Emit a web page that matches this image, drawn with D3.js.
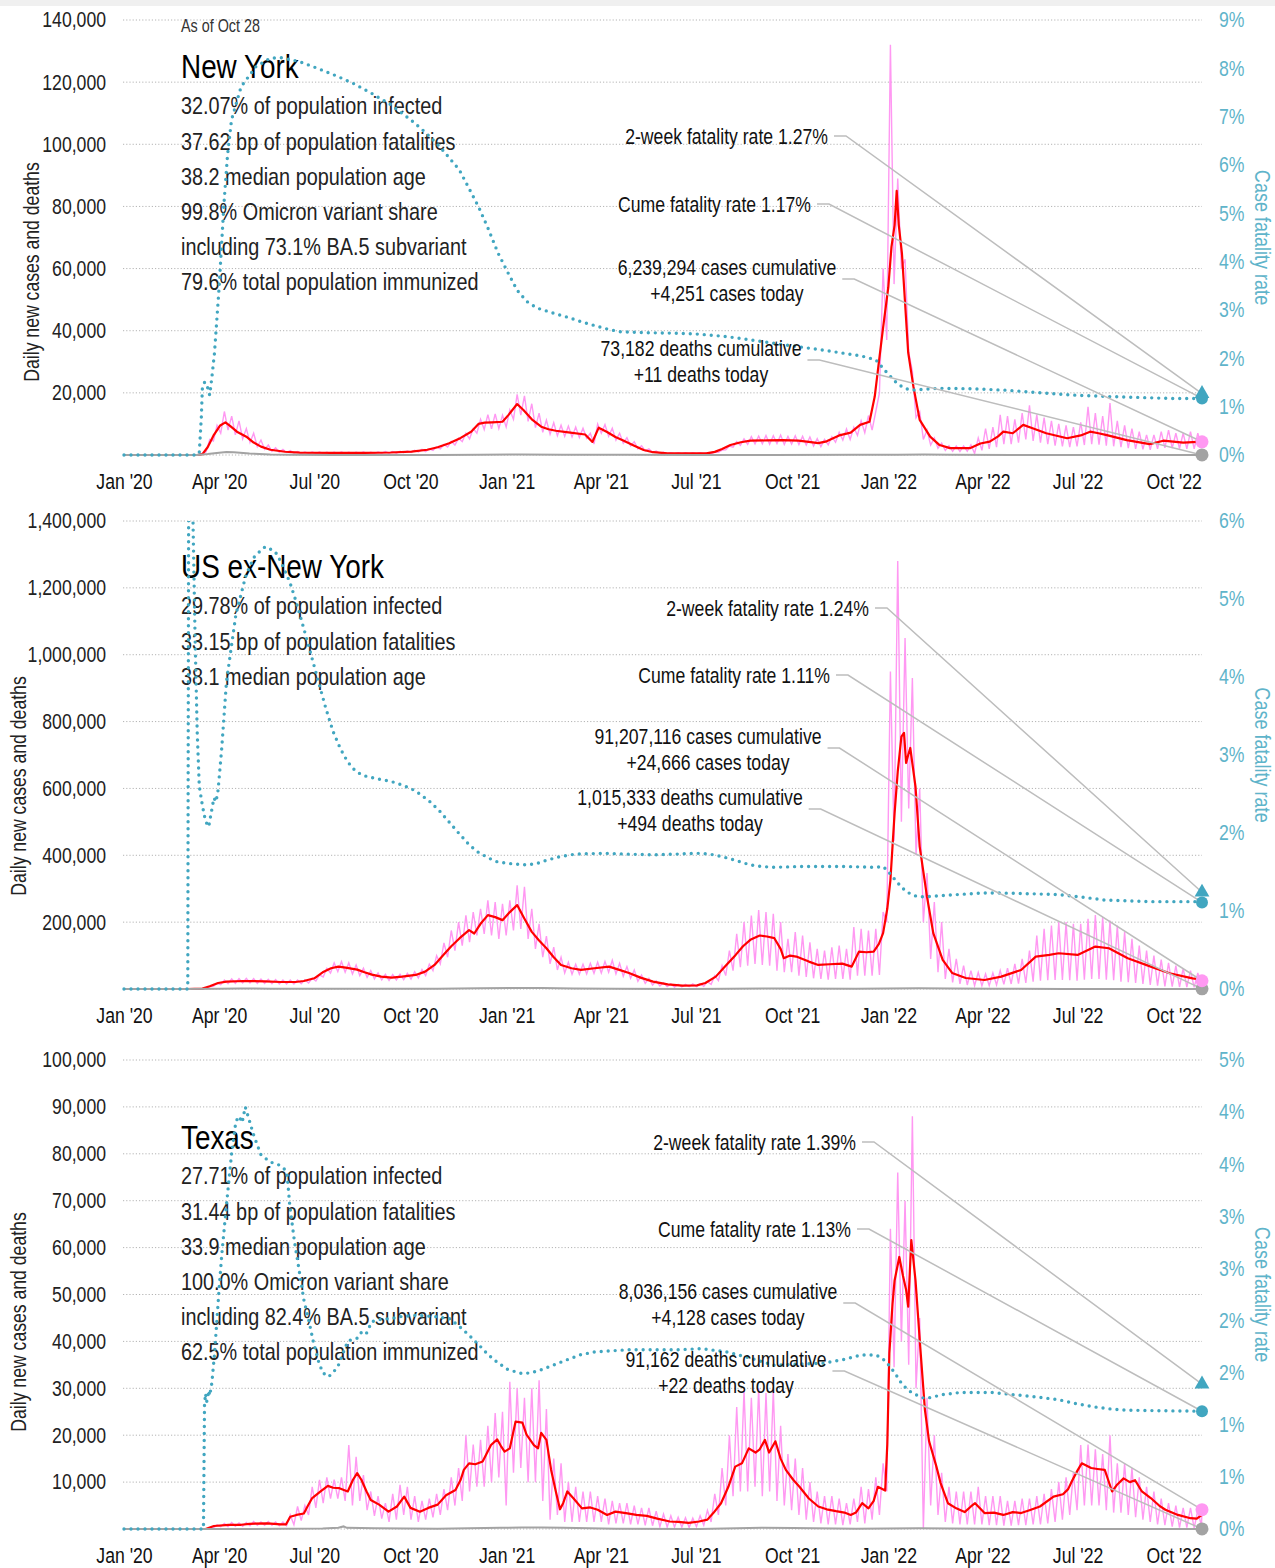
<!DOCTYPE html>
<html>
<head>
<meta charset="utf-8">
<script src="https://cdn.jsdelivr.net/npm/d3@7"></script>
<style>
  body { margin: 0; background: #fff; }
  svg text { font-family: "Liberation Sans", Arial, sans-serif; }
</style>
</head>
<body>
<svg id="chart" width="1275" height="1568"></svg>
<script>
// days are counted from Jan 1 2020, case and death values are in thousands,
// fatality rates in percent

const asOf = 'As of Oct 28'
const lastDay = 1031

const regions = ['New York', 'US ex-New York', 'Texas']
const stats = [
    ['32.07% of population infected', '37.62 bp of population fatalities', '38.2 median population age',
     '99.8% Omicron variant share', 'including 73.1% BA.5 subvariant', '79.6% total population immunized'],
    ['29.78% of population infected', '33.15 bp of population fatalities', '38.1 median population age'],
    ['27.71% of population infected', '31.44 bp of population fatalities', '33.9 median population age',
     '100.0% Omicron variant share', 'including 82.4% BA.5 subvariant', '62.5% total population immunized'],
]
const fatality2wk = [1.27, 1.24, 1.39]
const fatalityCume = [1.17, 1.11, 1.13]
const casesCum = [6239294, 91207116, 8036156]
const deathsCum = [73182, 1015333, 91162]
const casesToday = [4.251, 24.666, 4.128]
const deathsToday = [0.011, 0.494, 0.022]

// 7-day average of new cases, [day, thousands]
const nyAvg = [[0,0],[70,0],[75,0.3],[80,2.5],[86,6.5],[92,9.5],[97,10.5],[102,9.2],[108,7.5],[117,5.9],[124,4.0],[131,2.7],[140,1.7],[154,1.05],[168,0.75],[200,0.7],[230,0.7],[255,0.8],[275,1.1],[290,1.7],[300,2.5],[311,3.8],[322,5.5],[332,7.5],[339,10.0],[345,10.4],[352,10.5],[362,10.7],[368,13],[376,16.4],[382,14.5],[390,11.5],[399,9.1],[406,8.3],[413,7.8],[425,7.3],[441,6.6],[448,4.2],[454,8.8],[462,7.4],[470,5.8],[478,4.6],[488,3.0],[497,1.6],[506,0.9],[520,0.54],[557,0.5],[565,1.0],[572,1.9],[580,3.2],[590,4.1],[599,4.6],[615,4.7],[630,4.8],[645,4.6],[655,4.2],[664,3.8],[672,4.4],[685,6.4],[695,7.2],[704,9.7],[713,10.7],[718,18.8],[722,30],[726,41],[731,54],[734,67],[737,74],[739,85],[741,74],[744,65],[747,49],[750,33],[755,22],[761,11.3],[771,5.9],[780,3.2],[790,2.2],[809,2.2],[819,3.7],[828,4.3],[836,6.0],[841,7.5],[850,7.0],[860,9.7],[869,8.6],[882,7.0],[902,5.4],[915,6.3],[924,7.5],[932,7.0],[940,6.4],[959,4.8],[981,3.5],[994,4.6],[1013,4.0],[1031,4.3]]
const usAvg = [[0,0],[60,0],[75,1],[82,8],[90,18],[98,22],[114,24],[135,23],[150,21],[164,21],[172,24],[182,32],[190,50],[198,62],[205,67],[212,64],[223,58],[230,50],[237,43],[246,37],[256,34],[266,37],[279,42],[288,52],[297,72],[305,100],[313,128],[321,152],[330,176],[335,166],[341,195],[348,221],[355,215],[362,206],[369,230],[376,251],[383,210],[390,171],[397,145],[404,122],[411,95],[418,72],[428,62],[437,57],[450,62],[464,67],[473,58],[483,48],[494,34],[506,22],[520,14],[534,10],[548,11],[556,18],[566,37],[575,68],[585,102],[592,128],[599,147],[608,160],[615,157],[622,152],[628,120],[631,92],[637,100],[643,97],[655,82],[664,72],[675,74],[687,76],[696,67],[703,112],[710,110],[717,112],[722,135],[726,167],[730,240],[733,326],[737,526],[740,650],[743.5,755],[746,766],[748,676],[750,700],[752,721],[757,605],[761,426],[768,276],[774,167],[783,87],[792,48],[805,33],[823,27],[839,37],[858,57],[872,97],[885,102],[894,107],[912,102],[929,127],[942,122],[960,92],[982,67],[1000,47],[1022,32],[1031,28]]
const txAvg = [[0,0],[78,0],[86,0.64],[100,0.9],[112,0.9],[120,1.1],[137,1.2],[150,1.0],[155,1.0],[159,2.6],[165,3.0],[172,3.3],[176,5.0],[180,6.6],[188,8.0],[195,9.2],[200,8.8],[206,8.7],[214,8.0],[219,10.5],[223,11.9],[227,10.5],[232,8.0],[236,6.2],[244,5.2],[253,3.7],[261,4.8],[268,6.9],[274,4.5],[283,3.7],[291,4.5],[300,5.2],[308,7.2],[317,8.3],[322,10.5],[325,12.6],[330,14.0],[336,13.8],[343,14.4],[351,17.9],[357,19.1],[361,17.5],[364,16.5],[369,17.2],[374.5,22.9],[381,22.7],[385,20.1],[392,17.9],[396,17.2],[399,20.5],[404,19.0],[408.5,12.6],[413,8.0],[417,4.2],[420,5.5],[424,8.0],[430,6.5],[438,4.4],[446,4.6],[453,4.1],[462,3.0],[470,3.7],[480,3.4],[490,3.0],[500,2.8],[510,2.2],[522,1.6],[530,1.5],[540,1.3],[550,1.6],[558,2.0],[564,3.5],[571,5.5],[578,9.0],[584.6,13.3],[591,14],[597.5,17.2],[604,16.3],[608,17.0],[613,19.0],[617,16.3],[623,18.7],[628,15.0],[633,12.6],[640,10.5],[646,9.0],[655,6.5],[664,4.8],[672,4.2],[681,3.8],[689,3.5],[695,3.0],[700,3.5],[706,5.5],[712,4.4],[717,6.0],[721,9.0],[728,8.2],[730,18],[732,37.5],[735,48],[737,53],[741.5,58],[745,54],[748,51],[750,47.4],[753,61.6],[757,53],[761.5,38.9],[766,25.4],[770,18.7],[777,13.3],[781,9.8],[788,5.5],[796,4.4],[804,3.6],[810,4.8],[814,5.5],[823,3.4],[832,3.5],[841,3.0],[850,3.6],[858,3.4],[866,4.0],[876,4.8],[889,6.9],[898,7.4],[903,8.5],[907,10.4],[912,12.5],[916,14.0],[925,13.0],[931,12.8],[938,12.6],[945,8.0],[950,9.5],[956,10.8],[962,10.0],[967,10.4],[973.5,8.0],[982,6.6],[990,5.0],[996,4.1],[1008,3.0],[1020,2.3],[1026,2.2],[1031,3.0]]

// daily new cases, weekly high and low readings (week i: low near day 7i+1.5, high near day 7i+5)
const nyHigh = [
    0,0,0,0,0,0,0,0,0,0,0.3,5.0,9.5,
    14.0,12.5,11.0,8.5,7.0,4.8,3.2,2.3,1.8,1.4,1.1,1.0,0.95,
    0.95,0.9,0.9,0.95,0.9,0.9,0.95,0.9,1.0,1.1,1.1,1.2,1.3,
    1.5,1.8,2.0,2.6,3.4,4.4,5.4,7.0,8.5,11.5,13.0,13.2,12.8,
    14.5,19.5,19.0,16.5,13.5,11.2,10.4,9.6,9.3,9.0,8.6,7.0,10.0,
    9.8,8.6,7.0,5.6,4.3,3.0,2.0,1.3,0.9,0.75,0.7,0.7,0.7,
    0.7,0.7,0.85,1.6,2.9,4.3,5.2,5.9,6.1,6.3,6.2,6.4,6.0,
    6.2,6.0,5.8,5.3,5.0,5.9,7.3,8.4,8.9,11.0,12.7,14.0,60,
    132,89,63,27,14,8.0,5.5,3.8,3.0,2.9,2.9,3.3,5.5,
    8.5,9.0,12.9,12.5,11.5,13.5,16.0,13.0,12.0,11.0,10.0,9.5,9.0,
    10.5,15.5,13.5,12.5,16.7,11.0,9.5,8.5,7.5,6.5,6.5,7.5,8.0,
    7.0,7.0,7.5,7.0,6.0]
const nyLow = [
    0,0,0,0,0,0,0,0,0,0,0,1.0,4.5,
    7.0,8.0,6.5,5.2,4.0,2.7,1.8,1.2,0.9,0.8,0.6,0.5,0.5,
    0.5,0.5,0.5,0.5,0.5,0.5,0.5,0.5,0.55,0.6,0.6,0.6,0.7,
    0.8,1.0,1.1,1.5,2.0,2.6,3.2,4.3,5.2,7.0,8.2,8.4,8.5,
    9.0,11.5,12.8,10.8,8.8,7.3,6.7,6.2,6.0,5.8,5.6,5.4,3.5,
    7.0,6.0,4.8,3.8,2.9,2.0,1.3,0.8,0.5,0.4,0.4,0.4,0.4,
    0.4,0.4,0.45,0.9,1.7,2.5,3.1,3.4,3.6,3.6,3.5,3.7,3.4,
    3.5,3.4,3.2,2.9,2.7,3.3,4.1,4.8,5.0,6.3,7.2,8.0,20,
    37,55,60,33,12,5.0,3.2,2.2,1.5,1.2,1.1,1.2,0.5,
    1.5,2.0,2.5,3.5,3.5,4.0,5.0,4.5,4.0,3.5,3.0,2.8,2.5,
    2.8,3.2,3.5,3.3,3.0,2.8,2.5,2.2,2.0,1.8,1.7,2.0,2.3,
    2.2,2.1,2.0,2.0,2.2]
const usHigh = [
    0,0,0,0,0,0,0,0,0,0,1,7,17,
    27,30,31,32,31,30,29,28,27,27,27,28,32,
    42,62,78,82,78,72,62,55,48,44,43,44,47,
    52,58,74,100,138,175,200,220,230,240,265,260,255,
    265,310,306,240,195,158,125,95,80,74,74,77,80,
    82,86,77,67,57,42,32,24,19,15,14,14,15,
    16,22,40,70,115,165,200,220,236,230,225,200,150,
    170,160,140,120,115,125,130,120,185,180,175,180,230,
    950,1280,1050,930,600,347,260,200,120,90,70,55,50,
    45,48,55,62,75,90,115,160,180,190,200,200,195,
    195,210,221,215,205,190,170,150,130,115,100,88,78,
    70,62,55,48,42]
const usLow = [
    0,0,0,0,0,0,0,0,0,0,0,2,8,
    13,16,17,18,18,17,17,16,15,15,15,16,18,
    24,36,48,52,50,45,40,35,30,27,26,27,28,
    30,33,40,55,75,95,115,130,140,160,165,160,150,
    160,175,180,150,120,95,75,57,48,44,44,45,47,
    48,50,45,38,32,23,17,12,9,7,6,6,7,
    7,8,14,25,40,55,65,70,75,72,70,55,50,
    50,40,36,32,30,28,30,30,28,40,40,40,42,
    200,443,500,540,400,200,90,50,30,20,15,12,10,
    10,10,12,14,15,16,18,22,25,26,27,27,26,
    25,28,30,30,28,26,22,20,18,15,12,10,8,
    7,6,6,5,5]
const txHigh = [
    0,0,0,0,0,0,0,0,0,0,0,0.3,0.9,
    1.2,1.4,1.3,1.4,1.6,1.5,1.6,1.5,1.5,3.0,4.8,5.0,9.0,
    10.5,11.0,10.5,11.0,17.9,15.4,11.5,8.0,7.0,5.5,7.5,9.4,9.0,
    7.0,6.0,6.5,7.5,8.5,11,13,20,18,19,22,24.7,25,
    31.4,30,28,30,31.7,25.6,15,14,10,9,8,8,7,
    6.5,6.0,5.5,5.5,5.0,4.5,4.5,3.8,3.2,2.8,2.5,2.4,2.3,
    2.8,4.0,7.5,13,20,26,29.6,28,30,29,29.5,22,16,
    15,13,10,8,7,7,6.5,5.5,6.5,9,8.5,11,14,
    64,76,70,88,45,28,20,12,9,8,8,8,9,
    7,7,7,6,6,6.5,6.5,7,7.5,8.5,10,11,12,
    17.9,18,17,16,20,14,14,13,11,9,8,6.5,5.5,
    5,4.5,4.5,4,4.5]
const txLow = [
    0,0,0,0,0,0,0,0,0,0,0,0,0.2,
    0.5,0.5,0.6,0.6,0.7,0.8,0.8,0.8,0.7,0.7,0.9,1.8,3.0,
    4.5,5.5,6.5,6.5,6.0,5.0,6.0,4.0,2.8,2.2,1.5,2.0,3.0,
    2.0,1.5,2.0,2.5,3.0,4.0,5.0,6.0,8.0,9.0,9.0,10,11,
    5,12,13,10,10,6,2,3,1.5,1.5,1.5,1.5,1.5,
    1.5,1.0,1.2,1.2,1.0,1.0,0.8,0.7,0.5,0.4,0.4,0.4,0.3,
    0.5,0.8,1.5,3,5,7,8,8,9,7,8,6,5,
    4,3,2,1.5,1.2,1.0,1.0,0.8,1.0,1.5,1.2,2,3,
    8,34.5,40,35,30,0,5,3,1.5,1.2,1.0,1.0,1.0,
    1,0.8,0.8,0.7,0.7,0.8,0.8,1,1,1.2,1.5,2,3,
    4,5,5,5,4,3.5,3.5,3,2.5,2,1.5,1,0.8,
    0.5,0.3,0.3,0.2,0.5]

// daily deaths, [day, thousands]
const nyDeaths = [[0,0],[70,0],[80,0.3],[91,0.75],[98,0.95],[105,0.9],[120,0.5],[140,0.2],[160,0.08],[200,0.03],[300,0.03],[340,0.1],[380,0.17],[420,0.12],[480,0.05],[550,0.01],[620,0.03],[700,0.05],[740,0.12],[765,0.18],[790,0.06],[850,0.02],[1031,0.02]]
const usDeaths = [[0,0],[60,0],[91,0.9],[110,1.5],[140,1.0],[180,0.5],[220,1.0],[260,0.75],[300,0.8],[340,2.0],[375,3.0],[400,2.8],[430,1.8],[470,0.7],[540,0.25],[620,1.8],[700,1.1],[760,2.4],[790,1.5],[830,0.4],[900,0.35],[1031,0.35]]
const txDeaths = [[0,0],[80,0],[100,0.02],[150,0.03],[190,0.12],[205,0.25],[210,0.55],[213,0.25],[240,0.15],[300,0.06],[360,0.25],[380,0.3],[400,0.3],[420,0.25],[470,0.05],[550,0.02],[610,0.25],[640,0.2],[700,0.03],[760,0.15],[790,0.1],[850,0.02],[1031,0.02]]

// cumulative case fatality rate, [day, percent]
const nyRate = [[0,0],[70,0],[72,0.05],[74,0.8],[75,1.41],[77,1.5],[79,1.49],[81,1.3],[82,1.24],[84,1.6],[86.5,2.1],[91,3.48],[95.6,5.2],[99,6.2],[102.8,6.93],[112,7.62],[126,8.03],[139.7,8.21],[150,8.22],[167.8,8.14],[185,8.0],[204.7,7.83],[220,7.68],[237,7.48],[255,7.25],[274.5,6.93],[288,6.68],[302,6.38],[320.7,5.9],[339,5.14],[348,4.7],[357.7,4.18],[367,3.78],[376,3.41],[385,3.18],[395,3.04],[410,2.94],[422.7,2.86],[440,2.74],[459.7,2.62],[473.6,2.55],[500,2.53],[529,2.52],[550,2.5],[576,2.45],[600,2.38],[622,2.31],[645,2.24],[668.6,2.17],[690,2.1],[705,2.05],[719,1.97],[729,1.72],[739,1.49],[745,1.4],[752,1.34],[765,1.36],[780,1.38],[810,1.37],[844,1.34],[875,1.29],[907.7,1.24],[940,1.21],[971.7,1.19],[1000,1.17],[1031,1.17]]
const usRate = [[0,0],[61,0],[62,7.5],[64,7.5],[66,6.0],[68,4.5],[70,3.3],[72,2.6],[75,2.35],[78,2.15],[81,2.08],[84,2.3],[86,2.45],[88,2.4],[90,2.55],[93.5,3.09],[98,3.94],[107,4.8],[116.7,5.31],[125,5.55],[135,5.67],[144.5,5.61],[150,5.48],[158.5,5.22],[165,4.95],[172,4.62],[179,4.28],[186,3.94],[193,3.6],[200,3.3],[207,3.08],[214,2.91],[221,2.8],[228,2.74],[240,2.7],[255.7,2.66],[265,2.62],[274.5,2.57],[283,2.5],[292.7,2.40],[302,2.28],[311,2.14],[320,2.0],[330,1.85],[338,1.76],[348.5,1.68],[357,1.63],[367,1.61],[385.6,1.59],[395,1.61],[404,1.65],[418,1.70],[432,1.73],[459.7,1.74],[480,1.73],[506,1.72],[530,1.73],[548,1.74],[560,1.73],[571,1.70],[585,1.65],[599,1.59],[610,1.57],[622,1.56],[645,1.57],[691,1.57],[719,1.56],[726,1.57],[730,1.52],[735,1.44],[742,1.33],[748,1.25],[755,1.2],[761,1.18],[775,1.19],[796.5,1.21],[820,1.23],[841,1.23],[870,1.22],[894,1.21],[915,1.18],[938,1.14],[960,1.13],[982,1.12],[1031,1.12]]
const txRate = [[0,0],[76,0],[77,1.19],[78,1.3],[79,1.22],[80,1.25],[81,1.33],[82,1.28],[84,1.4],[86.5,1.67],[91,2.31],[93.5,2.63],[98,3.11],[102.8,3.59],[107,3.91],[110,3.96],[113,3.9],[116,4.05],[119.6,3.93],[124,3.78],[131,3.59],[140,3.52],[147,3.5],[153,3.46],[156,3.4],[158.5,3.11],[163,2.76],[167.7,2.47],[172,2.2],[177,1.99],[181,1.8],[186,1.61],[190,1.5],[195.5,1.46],[200,1.5],[205,1.57],[210,1.7],[214,1.80],[218,1.82],[223,1.83],[228,1.9],[232,1.88],[237,1.99],[245,2.01],[255.7,2.02],[266,2.04],[279,2.05],[295,2.04],[311,2.02],[320,1.95],[330,1.86],[340,1.76],[348.5,1.67],[357,1.6],[367,1.53],[381,1.49],[390,1.5],[399.5,1.53],[410,1.57],[422.7,1.62],[436,1.67],[450.5,1.70],[483,1.72],[529,1.72],[552.5,1.73],[575.8,1.70],[598.8,1.64],[612,1.6],[622,1.57],[640,1.58],[668.4,1.59],[690,1.63],[705,1.67],[719,1.67],[725,1.64],[730,1.59],[737,1.5],[743.5,1.40],[750,1.33],[757,1.29],[766,1.25],[775,1.27],[783.5,1.29],[800,1.31],[814,1.31],[830,1.31],[849.6,1.29],[870,1.27],[894,1.24],[912,1.2],[929,1.17],[945,1.15],[960,1.14],[990,1.135],[1031,1.13]]

// axis ticks
const nyTicks = [0, 20, 40, 60, 80, 100, 120, 140]
const usTicks = [0, 200, 400, 600, 800, 1000, 1200, 1400]
const txTicks = [0, 10, 20, 30, 40, 50, 60, 70, 80, 90, 100]
const nyRateTicks = [0, 1, 2, 3, 4, 5, 6, 7, 8, 9]
const usRateTicks = [0, 1, 2, 3, 4, 5, 6]
const txRateTicks = [0, 0.5, 1, 1.5, 2, 2.5, 3, 3.5, 4, 4.5]

/*
* layout of the three panels
*/
const panels = [
    { avg: nyAvg, high: nyHigh, low: nyLow, deaths: nyDeaths, rate: nyRate, ticks: nyTicks, rateTicks: nyRateTicks,
      top: 20, bottom: 455, titleY: 66, statsY: 106, yTitleX: 31, yTitleY: 272,
      ann: { rate2: [828, 136], cume: [811, 204], cases: [727, 267], deaths: [701, 348] } },
    { avg: usAvg, high: usHigh, low: usLow, deaths: usDeaths, rate: usRate, ticks: usTicks, rateTicks: usRateTicks,
      top: 521, bottom: 989, titleY: 566, statsY: 606, yTitleX: 18, yTitleY: 786,
      ann: { rate2: [869, 608], cume: [830, 675], cases: [708, 736], deaths: [690, 797] } },
    { avg: txAvg, high: txHigh, low: txLow, deaths: txDeaths, rate: txRate, ticks: txTicks, rateTicks: txRateTicks,
      top: 1060, bottom: 1529, titleY: 1137, statsY: 1176, yTitleX: 18, yTitleY: 1322,
      ann: { rate2: [856, 1142], cume: [851, 1229], cases: [728, 1291], deaths: [726, 1359] } },
]

const colors = {
    daily: '#ff98f2',
    avg: '#ff0000',
    deaths: '#a3a3a3',
    rate: '#41a6c0',
    rateText: '#5fb4ca',
    grid: '#b4b4b4',
    leader: '#bdbdbd',
}

// the original uses a condensed face, so every text is squeezed horizontally
const SX = 0.82
const squeeze = (x, y, extra = '') => `translate(${x},${y})${extra} scale(${SX},1)`

const BASE = Date.UTC(2020, 0, 1)
const day = (d) => new Date(BASE + d * 864e5)
const numberFormat = d3.format(',')

const svg = d3.select('#chart')
svg.append('rect').attr('width', 1275).attr('height', 6).attr('fill', '#f0f0f0')

const x = d3.scaleUtc().domain([day(0), day(lastDay)]).range([124, 1202])

panels.forEach((p, k) => {
    const y = d3.scaleLinear().domain([0, p.ticks[p.ticks.length - 1]]).range([p.bottom, p.top])
    const yRate = d3.scaleLinear().domain([0, p.rateTicks[p.rateTicks.length - 1]]).range([p.bottom, p.top])
    const g = svg.append('g')

    svg.append('clipPath').attr('id', 'clip' + k)
        .append('rect').attr('x', 120).attr('y', p.top).attr('width', 1090).attr('height', p.bottom - p.top + 6)

    // dotted gridlines
    g.append('g').selectAll('line')
        .data(p.ticks)
        .join('line')
        .attr('x1', 123).attr('x2', 1202)
        .attr('y1', (d) => y(d)).attr('y2', (d) => y(d))
        .attr('stroke', colors.grid).attr('stroke-width', 1).attr('stroke-dasharray', '1.2 2')

    // left axis
    const left = g.append('g').attr('transform', 'translate(106,0)')
        .call(d3.axisLeft(y).tickValues(p.ticks.slice(1)).tickSize(0).tickPadding(0)
            .tickFormat((d) => numberFormat(d * 1000)))
    left.select('.domain').remove()
    left.selectAll('text').attr('font-size', 21.5).attr('fill', '#222').attr('font-family', null)
        .attr('transform', `scale(${SX},1)`)

    // right axis
    const right = g.append('g').attr('transform', 'translate(1219,0)')
        .call(d3.axisRight(yRate).tickValues(p.rateTicks).tickSize(0).tickPadding(0)
            .tickFormat((d) => Math.round(d) + '%'))
    right.select('.domain').remove()
    right.selectAll('text').attr('font-size', 21.5).attr('fill', colors.rateText).attr('font-family', null)
        .attr('transform', `scale(${SX},1)`)

    // bottom axis
    const bottom = g.append('g').attr('transform', 'translate(0,' + p.bottom + ')')
        .call(d3.axisBottom(x).ticks(d3.utcMonth.every(3)).tickFormat(d3.utcFormat("%b '%y")).tickSize(0))
    bottom.select('.domain').remove()
    bottom.selectAll('text').attr('font-size', 21.5).attr('fill', '#111').attr('font-family', null)
        .attr('y', 0).attr('dy', '0.35em').attr('transform', `translate(0,26) scale(${SX},1)`)

    // axis titles
    g.append('text')
        .attr('transform', squeeze(p.yTitleX, p.yTitleY, ' rotate(-90)'))
        .attr('text-anchor', 'middle').attr('dy', '0.35em')
        .attr('font-size', 21.5).attr('fill', '#222')
        .text('Daily new cases and deaths')
    g.append('text')
        .attr('transform', squeeze(1263, (p.top + p.bottom) / 2, ' rotate(90)'))
        .attr('text-anchor', 'middle').attr('dy', '0.35em')
        .attr('font-size', 22).attr('fill', colors.rateText)
        .text('Case fatality rate')

    // title block
    if (k === 0) {
        g.append('text').attr('transform', squeeze(181, 26)).attr('dy', '0.35em')
            .attr('font-size', 17.5).attr('fill', '#333').text(asOf)
    }
    g.append('text').attr('transform', squeeze(181, p.titleY)).attr('dy', '0.35em')
        .attr('font-size', 34).attr('fill', '#000').text(regions[k])
    g.append('g').selectAll('text')
        .data(stats[k])
        .join('text')
        .attr('transform', (d, i) => squeeze(181, p.statsY + i * 35.2)).attr('dy', '0.35em')
        .attr('font-size', 24.2).attr('fill', '#222')
        .text((d) => d)

    // series
    const plot = g.append('g').attr('clip-path', `url(#clip${k})`)
    const line = d3.line().x((d) => x(day(d[0]))).y((d) => y(d[1]))
    const rateLine = d3.line().x((d) => x(day(d[0]))).y((d) => yRate(d[1]))

    const daily = []
    p.low.forEach((v, i) => {
        daily.push([7 * i + 1.5, v])
        daily.push([Math.min(7 * i + 5, lastDay), p.high[i]])
    })

    plot.append('path').datum(daily).attr('d', line)
        .attr('fill', 'none').attr('stroke', colors.daily).attr('stroke-width', 1.4)
    plot.append('path').datum(p.avg).attr('d', line)
        .attr('fill', 'none').attr('stroke', colors.avg).attr('stroke-width', 2.2).attr('stroke-linejoin', 'round')
    plot.append('path').datum(p.deaths).attr('d', line)
        .attr('fill', 'none').attr('stroke', colors.deaths).attr('stroke-width', 2)
    plot.append('path').datum(p.rate).attr('d', rateLine)
        .attr('fill', 'none').attr('stroke', colors.rate).attr('stroke-width', 3.4)
        .attr('stroke-linecap', 'round').attr('stroke-dasharray', '0 7')

    // annotations with leader lines
    const endX = x(day(lastDay))
    const targets = {
        rate2: yRate(fatality2wk[k]),
        cume: yRate(fatalityCume[k]),
        cases: y(casesToday[k]),
        deaths: y(deathsToday[k]),
    }
    const labels = {
        rate2: ['2-week fatality rate ' + fatality2wk[k].toFixed(2) + '%'],
        cume: ['Cume fatality rate ' + fatalityCume[k].toFixed(2) + '%'],
        cases: [numberFormat(casesCum[k]) + ' cases cumulative', '+' + numberFormat(Math.round(casesToday[k] * 1000)) + ' cases today'],
        deaths: [numberFormat(deathsCum[k]) + ' deaths cumulative', '+' + numberFormat(Math.round(deathsToday[k] * 1000)) + ' deaths today'],
    }
    const annLayer = g.append('g')
    Object.keys(labels).forEach((key) => {
        const [ax, ay] = p.ann[key]
        const lines = labels[key]
        const anchor = lines.length > 1 ? 'middle' : 'end'
        const texts = annLayer.append('g').selectAll('text')
            .data(lines)
            .join('text')
            .attr('transform', (d, i) => squeeze(ax, ay + i * 26.5)).attr('dy', '0.35em')
            .attr('text-anchor', anchor)
            .attr('font-size', 21.5).attr('fill', '#111')
            .text((d) => d)
        const w = texts.node().getComputedTextLength() * SX
        const rightEdge = anchor === 'end' ? ax : ax + w / 2
        const ly = lines.length > 1 ? ay + 12 : ay
        annLayer.append('path')
            .attr('d', d3.line()([[rightEdge + 6, ly], [rightEdge + 18, ly], [endX, targets[key]]]))
            .attr('fill', 'none').attr('stroke', colors.leader).attr('stroke-width', 1.5)
    })

    // end markers
    g.append('circle').attr('cx', endX).attr('cy', targets.deaths).attr('r', 6.5).attr('fill', colors.deaths)
    g.append('circle').attr('cx', endX).attr('cy', targets.cases).attr('r', 6.5).attr('fill', colors.daily)
    g.append('circle').attr('cx', endX).attr('cy', targets.cume).attr('r', 6).attr('fill', colors.rate)
    g.append('path')
        .attr('transform', `translate(${endX},${targets.rate2})`)
        .attr('d', d3.symbol(d3.symbolTriangle, 95)())
        .attr('fill', colors.rate)
})
</script>
</body>
</html>
